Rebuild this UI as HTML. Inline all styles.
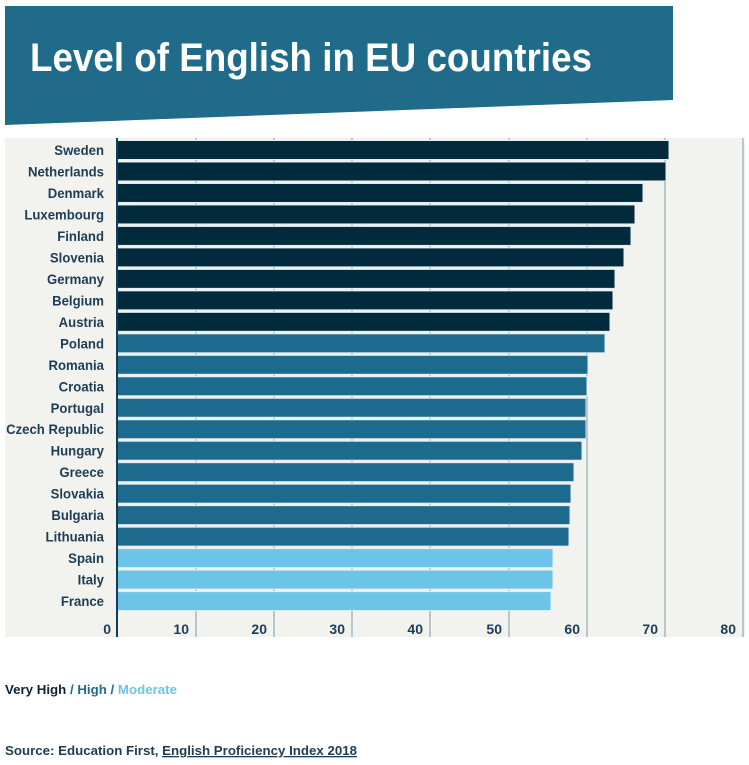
<!DOCTYPE html>
<html><head><meta charset="utf-8"><style>
html,body{margin:0;padding:0;background:#fff;width:749px;height:765px;overflow:hidden;font-family:"Liberation Sans Narrow","Liberation Sans",sans-serif;}
</style></head><body>
<svg width="749" height="765" xmlns="http://www.w3.org/2000/svg" style="position:absolute;left:0;top:0">
<polygon points="5,6 673,6 673,100 5,125" fill="#206a8a"/>
<text x="30" y="71" font-family="Liberation Sans Narrow, Liberation Sans, sans-serif" font-weight="bold" font-size="40" fill="#fff" textLength="562" lengthAdjust="spacingAndGlyphs">Level of English in EU countries</text>
<rect x="5" y="138" width="740" height="499" fill="#f2f2ee"/>
<g stroke="#7f9cad" stroke-width="1">
<line x1="196" y1="138" x2="196" y2="637"/><line x1="274" y1="138" x2="274" y2="637"/>
<line x1="352" y1="138" x2="352" y2="637"/><line x1="430" y1="138" x2="430" y2="637"/>
<line x1="509" y1="138" x2="509" y2="637"/><line x1="587" y1="138" x2="587" y2="637"/>
<line x1="665" y1="138" x2="665" y2="637"/><line x1="743" y1="138" x2="743" y2="637"/>
</g>
<g id="bars" stroke="#e6eef2" stroke-width="1"></g>
<line x1="117" y1="138" x2="117" y2="637" stroke="#0f3f58" stroke-width="2"/>
<g transform="translate(104,0) scale(0.94,1) translate(-104,0)"><g id="labels" font-family="Liberation Sans Narrow, Liberation Sans, sans-serif" font-weight="bold" font-size="14" fill="#1d3d55" text-anchor="end"></g></g>
<g font-family="Liberation Sans Narrow, Liberation Sans, sans-serif" font-weight="bold" font-size="14" fill="#1d3d55" text-anchor="end">
<text x="111" y="634">0</text><text x="189" y="634">10</text><text x="267" y="634">20</text><text x="345" y="634">30</text><text x="423" y="634">40</text><text x="502" y="634">50</text><text x="580" y="634">60</text><text x="658" y="634">70</text><text x="736" y="634">80</text>
</g>
<text x="5" y="694" font-family="Liberation Sans, sans-serif" font-weight="bold" font-size="13" textLength="172" lengthAdjust="spacingAndGlyphs"><tspan fill="#0c2433">Very High</tspan><tspan fill="#1c6a8e"> / High / </tspan><tspan fill="#6cc4e8">Moderate</tspan></text>
<text x="5" y="755" font-family="Liberation Sans, sans-serif" font-weight="bold" font-size="13" fill="#1d3d55" textLength="352" lengthAdjust="spacingAndGlyphs">Source: Education First, <tspan text-decoration="underline">English Proficiency Index 2018</tspan></text>
</svg>
<script>
var d=[["Sweden",669,0],["Netherlands",666,0],["Denmark",643,0],["Luxembourg",635,0],["Finland",631,0],["Slovenia",624,0],["Germany",615,0],["Belgium",613,0],["Austria",610,0],["Poland",605,1],["Romania",588,1],["Croatia",587,1],["Portugal",586,1],["Czech Republic",586,1],["Hungary",582,1],["Greece",574,1],["Slovakia",571,1],["Bulgaria",570,1],["Lithuania",569,1],["Spain",553,2],["Italy",553,2],["France",551,2]];
var c=["#022a3d","#1c6a8e","#6cc4e8"],ns="http://www.w3.org/2000/svg";
var b=document.getElementById("bars"),l=document.getElementById("labels");
d.forEach(function(r,i){var cy=150+i*21.48;
var e=document.createElementNS(ns,"rect");e.setAttribute("x",117);e.setAttribute("y",cy-9.5);e.setAttribute("width",r[1]-117);e.setAttribute("height",19);e.setAttribute("fill",c[r[2]]);b.appendChild(e);
var t=document.createElementNS(ns,"text");t.setAttribute("x",104);t.setAttribute("y",cy+5);t.textContent=r[0];l.appendChild(t);});
</script>
</body></html>
